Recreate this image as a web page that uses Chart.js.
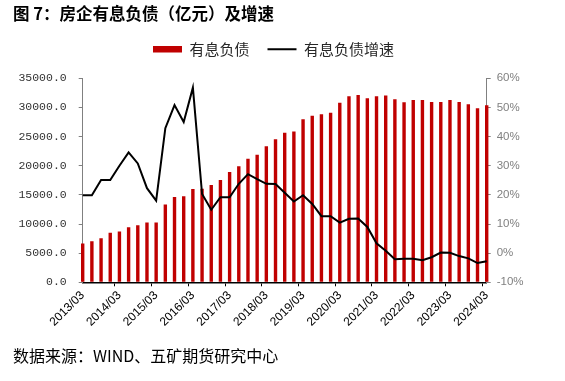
<!DOCTYPE html>
<html>
<head>
<meta charset="utf-8">
<script src="https://cdn.jsdelivr.net/npm/chart.js@4"></script>
<style>
  html, body { margin: 0; padding: 0; background: #fff; }
  #wrap { width: 565px; height: 381px; position: relative; }
</style>
</head>
<body>
<div id="wrap"><canvas id="c"></canvas></div>
<script>
const titleText = '图 7：房企有息负债（亿元）及增速';
const sourceText = '数据来源：WIND、五矿期货研究中心';
const seriesNames = ['有息负债', '有息负债增速'];

const categories = [
  '2013/03','2013/06','2013/09','2013/12',
  '2014/03','2014/06','2014/09','2014/12',
  '2015/03','2015/06','2015/09','2015/12',
  '2016/03','2016/06','2016/09','2016/12',
  '2017/03','2017/06','2017/09','2017/12',
  '2018/03','2018/06','2018/09','2018/12',
  '2019/03','2019/06','2019/09','2019/12',
  '2020/03','2020/06','2020/09','2020/12',
  '2021/03','2021/06','2021/09','2021/12',
  '2022/03','2022/06','2022/09','2022/12',
  '2023/03','2023/06','2023/09','2023/12',
  '2024/03'
];

// 有息负债（亿元）
const debt = [
  6650, 7050, 7550, 8480,
  8720, 9440, 9800, 10260,
  10260, 13350, 14640, 14750,
  16010, 16030, 16700, 17550,
  18920, 19900, 21210, 21900,
  23350, 24530, 25640, 25860,
  27960, 28590, 28820, 29080,
  30820, 31910, 32140, 31570,
  31910, 32050, 31400, 30910,
  31280, 31280, 30940, 30940,
  31280, 30940, 30540, 29880,
  30370
];

// 有息负债增速（%）
const growth = [
  19.9, 19.9, 25.1, 25.1,
  30.0, 34.6, 30.8, 22.3,
  18.0, 42.9, 50.8, 45.0,
  56.8, 20.3, 14.9, 19.2,
  19.2, 23.8, 27.1, 25.4,
  23.8, 23.7, 20.7, 17.7,
  19.9, 16.9, 12.7, 12.7,
  10.5, 11.8, 11.9, 9.0,
  3.4, 0.8, -2.1, -1.9,
  -1.9, -2.4, -1.4, 0.2,
  0.1, -1.0, -1.8, -3.4,
  -2.8
];

const yLeftTicks = [0, 5000, 10000, 15000, 20000, 25000, 30000, 35000];
const yRightTicks = [-10, 0, 10, 20, 30, 40, 50, 60];

const cjk = '"Noto Sans CJK SC", "Noto Sans", sans-serif';

new Chart(document.getElementById('c'), {
  data: {
    labels: categories,
    datasets: [
      {
        type: 'bar',
        label: seriesNames[0],
        data: debt,
        yAxisID: 'y',
        backgroundColor: '#C00000',
        borderWidth: 0,
        categoryPercentage: 1,
        barPercentage: 0.37,
        pointStyle: 'rect',
        clip: 3,
        order: 2
      },
      {
        type: 'line',
        label: seriesNames[1],
        data: growth,
        yAxisID: 'y1',
        borderColor: '#000000',
        backgroundColor: '#000000',
        borderWidth: 2,
        pointRadius: 0,
        tension: 0,
        pointStyle: 'line',
        order: 1
      }
    ]
  },
  options: {
    responsive: true,
    maintainAspectRatio: false,
    animation: false,
    layout: { padding: { top: 0, left: 13, right: 31, bottom: 15.6 } },
    plugins: {
      tooltip: { enabled: false },
      title: {
        display: true,
        text: titleText,
        align: 'start',
        color: '#000',
        font: { family: cjk, size: 16.5, weight: 'bold', lineHeight: 1.2 },
        padding: { top: 4, bottom: 0 }
      },
      subtitle: {
        display: true,
        text: sourceText,
        position: 'bottom',
        align: 'start',
        color: '#000',
        font: { family: cjk, size: 16, weight: 'normal', lineHeight: 1.2 },
        padding: { top: 0, bottom: 0 }
      },
      legend: {
        display: true,
        position: 'top',
        align: 'center',
        labels: {
          usePointStyle: true,
          pointStyleWidth: 29,
          boxHeight: 6.5,
          padding: 18,
          color: '#262626',
          font: { family: cjk, size: 15 },
          sort: (a, b) => a.datasetIndex - b.datasetIndex
        }
      }
    },
    scales: {
      x: {
        type: 'category',
        position: 'bottom',
        offset: false,
        grid: {
          display: true,
          drawOnChartArea: false,
          drawTicks: true,
          tickLength: 4,
          color: (ctx) => (ctx.index % 4 === 0 ? '#000' : 'rgba(0,0,0,0)')
        },
        border: { display: true, color: '#000', width: 1.5 },
        ticks: {
          autoSkip: false,
          minRotation: 45,
          maxRotation: 45,
          padding: 2,
          color: '#000',
          font: { family: '"Liberation Sans", Arial, sans-serif', size: 12 },
          callback: (val, i) => (i % 4 === 0 ? categories[i] : '')
        },
        afterFit: (s) => { s.height = 63.9; }
      },
      xTopSpacer: {
        type: 'category',
        position: 'top',
        display: true,
        grid: { display: false, drawTicks: false },
        border: { display: false },
        ticks: { display: false },
        afterFit: (s) => { s.height = 11.5; }
      },
      y: {
        type: 'linear',
        position: 'left',
        min: 0,
        max: 35000,
        grid: { drawOnChartArea: false, drawTicks: true, tickLength: 4, color: '#808080' },
        border: { display: true, color: '#808080', width: 1 },
        afterBuildTicks: (s) => { s.ticks = yLeftTicks.map(v => ({ value: v })); },
        ticks: {
          padding: 12,
          color: '#333',
          font: { family: '"Liberation Mono", "DejaVu Sans Mono", monospace', size: 11.5 },
          callback: (v) => Number(v).toFixed(1)
        },
        afterFit: (s) => { s.width = 69.7; }
      },
      y1: {
        type: 'linear',
        position: 'right',
        min: -10,
        max: 60,
        grid: { drawOnChartArea: false, drawTicks: true, tickLength: 4, color: '#808080' },
        border: { display: true, color: '#808080', width: 1 },
        afterBuildTicks: (s) => { s.ticks = yRightTicks.map(v => ({ value: v })); },
        ticks: {
          padding: 6,
          color: '#808080',
          font: { family: '"Liberation Sans", Arial, sans-serif', size: 11.5 },
          callback: (v) => v + '%'
        },
        afterFit: (s) => { s.width = 47.3; }
      }
    }
  }
});
</script>
</body>
</html>
